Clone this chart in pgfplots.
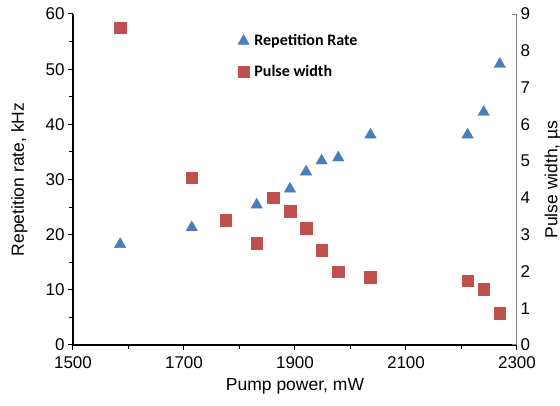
\documentclass[border=0pt]{standalone}
\usepackage{pgfplots}
\pgfplotsset{compat=1.18}
\usepackage{fontspec}
\setmainfont{Liberation Sans}
\newfontfamily\calibri{Carlito}
\definecolor{repblue}{RGB}{74,126,187}
\definecolor{pulsered}{RGB}{192,80,77}
\begin{document}
\begin{tikzpicture}
\useasboundingbox (-73pt,-61pt) rectangle (487pt,345pt);
\pgfplotsset{
  every axis/.append style={
    scale only axis, width=444pt, height=331pt, at={(0pt,0pt)}, anchor=south west,
    xmin=1500, xmax=2300,
    /pgf/number format/assume math mode=true,
    /pgf/number format/1000 sep={},
    ticklabel style={font=\fontsize{17}{20}\selectfont},
  }
}
\begin{axis}[
  ymin=0, ymax=60,
  axis x line*=bottom, axis y line*=left,
  axis line style={-, line width=1.2pt, black},
  xtick={1500,1700,...,2300}, minor xtick={1600,1800,2000,2200},
  ytick={0,10,...,60}, minor ytick={5,15,...,55},
  tick align=outside, major tick length=5pt, minor tick length=4pt,
  every tick/.style={black, line width=1pt},
  xticklabel style={yshift=-3pt},
  xlabel={Pump power, mW},
  ylabel={Repetition rate, kHz},
  every axis x label/.style={at={(axis description cs:0.5,-0.124)}, anchor=center, font=\fontsize{17.5}{21}\selectfont},
  every axis y label/.style={at={(axis description cs:-0.121,0.5)}, anchor=center, rotate=90, font=\fontsize{17.5}{21}\selectfont},
  legend style={at={(axis description cs:0.364,0.95)}, anchor=north west, draw=none, fill=none,
    font=\calibri\bfseries\fontsize{16}{19}\selectfont, row sep=14pt,
    /tikz/every odd column/.append style={column sep=3pt}},
  legend cell align=left,
  legend image code/.code={\draw[#1] plot coordinates {(0.15cm,0cm)};},
]
\addplot[only marks, mark=triangle*, mark size=6.6pt, color=repblue] coordinates {
(1585,18.25) (1714,21.3) (1831,25.4) (1891,28.3) (1920,31.4) (1948,33.4)
(1978,33.95) (2036,38.1) (2211,38.1) (2240,42.2) (2269,50.9)
};
\addlegendentry{Repetition Rate}
\addlegendimage{only marks, mark=square*, mark size=5.8pt, color=pulsered}
\addlegendentry{Pulse width}
\end{axis}
\begin{axis}[
  ymin=0, ymax=9,
  axis x line=none, axis y line*=right,
  axis line style={-, line width=1pt, gray},
  ytick={0,1,...,9},
  major tick length=0pt,
  extra y ticks={0,9}, extra y tick labels={},
  extra y tick style={major tick length=5pt, tick align=inside, every tick/.style={gray, line width=1pt}},
  ylabel={Pulse width, \textmu s},
  every axis y label/.style={at={(axis description cs:1.081,0.5)}, anchor=center, rotate=90, font=\fontsize{17.5}{21}\selectfont},
]
\addplot[only marks, mark=square*, mark size=5.8pt, color=pulsered] coordinates {
(1585,8.63) (1714,4.55) (1775,3.40) (1831,2.76) (1861,4.0) (1891,3.64)
(1920,3.17) (1948,2.58) (1978,1.99) (2036,1.84) (2211,1.75) (2240,1.52) (2269,0.86)
};
\end{axis}
\end{tikzpicture}
\end{document}
